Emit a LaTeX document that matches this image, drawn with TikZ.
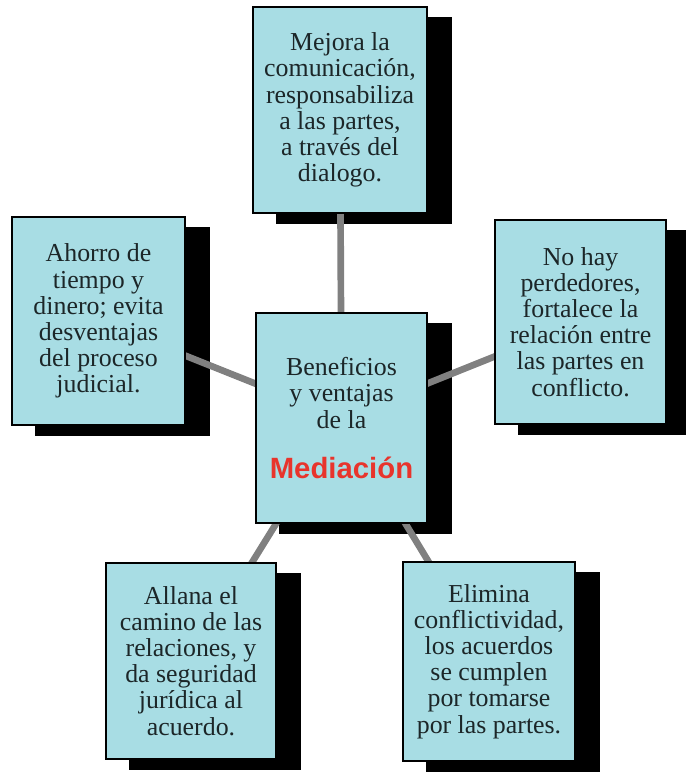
\documentclass[tikz,border=0pt]{standalone}
\usepackage{fontspec}
\setmainfont{Liberation Serif}
\newfontfamily\medfont{Liberation Sans}
\usetikzlibrary{calc}

\definecolor{boxfill}{RGB}{168,221,228}
\definecolor{linkgray}{RGB}{128,128,128}
\definecolor{medred}{RGB}{232,52,44}
\definecolor{txtdark}{RGB}{28,38,40}

\pgfdeclarelayer{shadow}
\pgfdeclarelayer{links}
\pgfsetlayers{shadow,links,main}

\tikzset{
  benefit/.style={draw=black, line width=1pt, fill=boxfill, align=center, text=txtdark,
    inner sep=0pt, font=\fontsize{19.4}{19.6}\selectfont},
  link/.style={draw=linkgray, line width=5pt},
  boxshadow/.style={fill=black}
}

\begin{document}
\begin{tikzpicture}[x=0.75pt,y=0.75pt,yscale=-1,xscale=1]
    \useasboundingbox (0,0) rectangle (685,774);

    % Text Node
    \node [benefit, minimum width=130.5pt, minimum height=154.5pt] (dialogo) at (340,110)
      {Mejora la\\comunicación,\\responsabiliza\\a las partes,\\a través del\\dialogo.};
    % Text Node
    \node [benefit, minimum width=129.75pt, minimum height=156pt] (ahorro) at (98.5,321)
      {Ahorro de\\tiempo y\\dinero; evita\\desventajas\\del proceso\\judicial.};
    % Text Node
    \node [benefit, minimum width=128.25pt, minimum height=153pt] (perdedores) at (580.5,322)
      {No hay\\perdedores,\\fortalece la\\relación entre\\las partes en\\conflicto.};
    % Text Node
    \node [benefit, minimum width=128.25pt, minimum height=157.5pt] (mediacion) at (341.5,418)
      {Beneficios\\y ventajas\\de la\\[18pt]{\medfont\bfseries\fontsize{22}{24}\selectfont\color{medred}Mediación}};
    % Text Node
    \node [benefit, minimum width=127.5pt, minimum height=147pt] (allana) at (191,661)
      {Allana el\\camino de las\\relaciones, y\\da seguridad\\jurídica al\\acuerdo.};
    % Text Node
    \node [benefit, minimum width=129pt, minimum height=149.25pt] (elimina) at (489,661.5)
      {Elimina\\conflictividad,\\los acuerdos\\se cumplen\\por tomarse\\por las partes.};

    %Straight Lines
    \begin{pgfonlayer}{links}
    \foreach \n in {dialogo,ahorro,perdedores,allana,elimina}
      \draw [link] (mediacion.center) -- (\n.center);
    \end{pgfonlayer}

    %Shape: Rectangle (shadows)
    \begin{pgfonlayer}{shadow}
    \foreach \n in {dialogo,ahorro,perdedores,mediacion,allana,elimina}
      \fill [boxshadow] ($(\n.north west)+(24,10.5)$) rectangle ($(\n.south east)+(24,10.5)$);
    \end{pgfonlayer}

\end{tikzpicture}
\end{document}
